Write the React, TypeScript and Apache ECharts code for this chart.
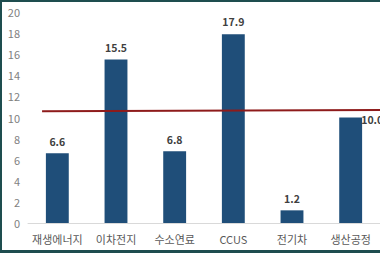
import React, { useEffect, useRef } from "react";
import * as echarts from "echarts";

const categories = ["재생에너지", "이차전지", "수소연료", "CCUS", "전기차", "생산공정"];
const values = [6.6, 15.5, 6.8, 17.9, 1.2, 10.0];
const yTicks = [0, 2, 4, 6, 8, 10, 12, 14, 16, 18, 20];
// reference line (start/end on category scale 0..6)
const refLine: [number, number][] = [
  [0.24, 10.6],
  [6, 10.7],
];

const FONT = "'Noto Sans CJK KR', 'Noto Sans', sans-serif";

export default function App() {
  const ref = useRef<HTMLDivElement>(null);
  useEffect(() => {
    document.body.style.margin = "0";
    if (!ref.current) return;
    const chart = echarts.init(ref.current, undefined, { renderer: "svg" });
    chart.setOption({
      animation: false,
      backgroundColor: "#ffffff",
      grid: { left: 28, right: 0, top: 12, bottom: 30 },
      xAxis: [
        {
          type: "category",
          data: categories,
          axisLine: { show: true, lineStyle: { color: "#d9d9d9", width: 1 } },
          axisTick: { show: false },
          axisLabel: {
            color: "#595959",
            fontSize: 11,
            fontFamily: FONT,
            margin: 10,
            interval: 0,
          },
        },
        {
          type: "value",
          min: 0,
          max: 6,
          show: false,
        },
      ],
      yAxis: {
        type: "value",
        min: yTicks[0],
        max: yTicks[yTicks.length - 1],
        interval: 2,
        axisLine: { show: false },
        axisTick: { show: false },
        splitLine: { show: false },
        axisLabel: { color: "#7f7f7f", fontSize: 11, fontFamily: FONT, margin: 8 },
      },
      series: [
        {
          type: "bar",
          xAxisIndex: 0,
          data: values.map((v, i) =>
            i === values.length - 1
              ? { value: v, label: { position: [22, -3] } }
              : v
          ),
          barCategoryGap: "61%",
          itemStyle: { color: "#1f4e79" },
          label: {
            show: true,
            position: "top",
            distance: 7,
            formatter: (p: any) => Number(p.value).toFixed(1),
            color: "#404040",
            fontSize: 10.5,
            fontWeight: 600,
            fontFamily: FONT,
          },
        },
        {
          type: "line",
          xAxisIndex: 1,
          data: refLine,
          symbol: "none",
          lineStyle: { color: "#8e1b1b", width: 2 },
          z: 5,
        },
      ],
    });
    return () => chart.dispose();
  }, []);
  return (
    <div
      style={{
        position: "relative",
        width: 380,
        height: 253,
        boxSizing: "border-box",
        overflow: "hidden",
      }}
    >
      <div ref={ref} style={{ width: 380, height: 253 }} />
      <div
        style={{
          position: "absolute",
          left: 0,
          top: 0,
          width: 382,
          height: 253,
          boxSizing: "border-box",
          borderLeft: "2px solid #1e4d4f",
          borderTop: "2px solid #1e4d4f",
          borderBottom: "3px solid #1e4d4f",
          pointerEvents: "none",
        }}
      />
    </div>
  );
}
